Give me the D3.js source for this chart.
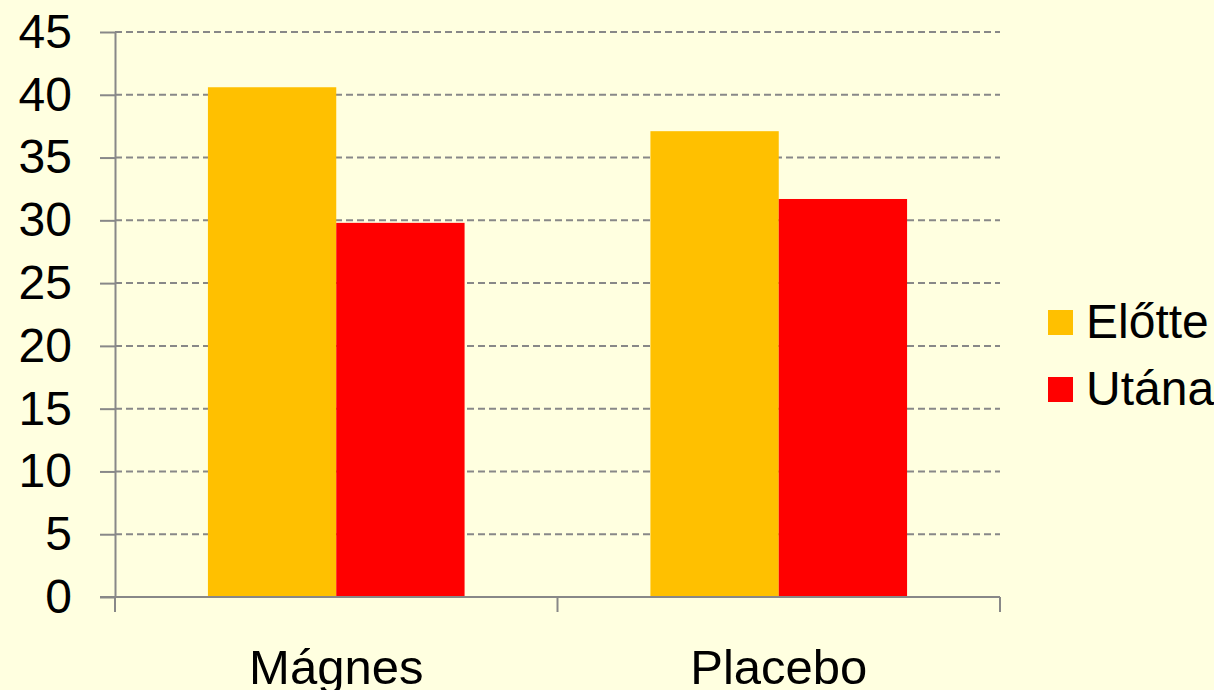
<!DOCTYPE html>
<html>
<head>
<meta charset="utf-8">
<script src="https://cdn.jsdelivr.net/npm/d3@7"></script>
<style>
  html, body { margin: 0; padding: 0; background: #ffffe0; }
  svg { display: block; font-family: "Liberation Sans", Arial, sans-serif; }
</style>
</head>
<body>
<svg id="chart" width="1214" height="690"></svg>
<script>
// data
var categories = ["Mágnes", "Placebo"];
var seriesNames = ["Előtte", "Utána"];
var elotte = [40.6, 37.1];
var utana = [29.8, 31.7];
var yTicks = [0, 5, 10, 15, 20, 25, 30, 35, 40, 45];
var colors = ["#ffc000", "#ff0000"];

var svg = d3.select("#chart"),
    plotLeft = 115, plotRight = 1000,
    plotTop = 32, plotBottom = 597,
    axisColor = "#888888";

var x = d3.scaleBand()
    .domain(categories)
    .range([plotLeft, plotRight])
    .paddingInner(0.42)
    .paddingOuter(0.21);

var x1 = d3.scaleBand()
    .domain(seriesNames)
    .range([0, x.bandwidth()]);

var y = d3.scaleLinear()
    .domain([0, 45])
    .range([plotBottom, plotTop]);

var rows = categories.map(function(c, i) {
    return { cat: c, values: [elotte[i], utana[i]] };
});

// gridlines
svg.append("g")
    .selectAll("line")
    .data(yTicks.filter(function(d) { return d > 0; }))
    .enter().append("line")
    .attr("x1", plotLeft)
    .attr("x2", plotRight)
    .attr("y1", function(d) { return y(d); })
    .attr("y2", function(d) { return y(d); })
    .attr("stroke", axisColor)
    .attr("stroke-width", 2)
    .attr("stroke-dasharray", "7,4");

// bars
var group = svg.append("g")
    .selectAll("g")
    .data(rows)
    .enter().append("g")
    .attr("transform", function(d) { return "translate(" + x(d.cat) + ",0)"; });

group.selectAll("rect")
    .data(function(d) { return d.values; })
    .enter().append("rect")
    .attr("x", function(d, i) { return x1(seriesNames[i]); })
    .attr("width", x1.bandwidth())
    .attr("y", function(d) { return y(d); })
    .attr("height", function(d) { return plotBottom - y(d); })
    .attr("fill", function(d, i) { return colors[i]; });

// y axis
var yAxis = svg.append("g")
    .attr("transform", "translate(" + plotLeft + ",0)")
    .call(d3.axisLeft(y).tickValues(yTicks).tickSize(15).tickSizeOuter(0).tickPadding(28));

yAxis.select(".domain").attr("stroke", axisColor).attr("stroke-width", 2);
yAxis.selectAll(".tick line").attr("stroke", axisColor).attr("stroke-width", 2);
yAxis.selectAll(".tick text")
    .attr("fill", "#000")
    .style("font-size", "48px")
    .style("font-family", "Liberation Sans, Arial, sans-serif");

// x axis line and category boundary ticks
svg.append("line")
    .attr("x1", plotLeft - 15)
    .attr("x2", plotRight)
    .attr("y1", plotBottom)
    .attr("y2", plotBottom)
    .attr("stroke", axisColor)
    .attr("stroke-width", 2);

var half = (x.step() - x.bandwidth()) / 2;
var bounds = categories.map(function(c) { return x(c) - half; }).concat([plotRight]);

svg.append("g")
    .selectAll("line")
    .data(bounds)
    .enter().append("line")
    .attr("x1", function(d) { return d; })
    .attr("x2", function(d) { return d; })
    .attr("y1", plotBottom)
    .attr("y2", plotBottom + 15)
    .attr("stroke", axisColor)
    .attr("stroke-width", 2);

svg.append("g")
    .selectAll("text")
    .data(categories)
    .enter().append("text")
    .attr("x", function(d) { return x(d) + x.bandwidth() / 2; })
    .attr("y", 684)
    .attr("text-anchor", "middle")
    .style("font-size", "49px")
    .text(function(d) { return d; });

// legend
var legend = svg.append("g")
    .selectAll("g")
    .data(seriesNames)
    .enter().append("g")
    .attr("transform", function(d, i) { return "translate(1048," + (310 + i * 67) + ")"; });

legend.append("rect")
    .attr("width", 25)
    .attr("height", 25)
    .attr("fill", function(d, i) { return colors[i]; });

legend.append("text")
    .attr("x", 38)
    .attr("y", 28)
    .style("font-size", "48px")
    .text(function(d) { return d; });
</script>
</body>
</html>
